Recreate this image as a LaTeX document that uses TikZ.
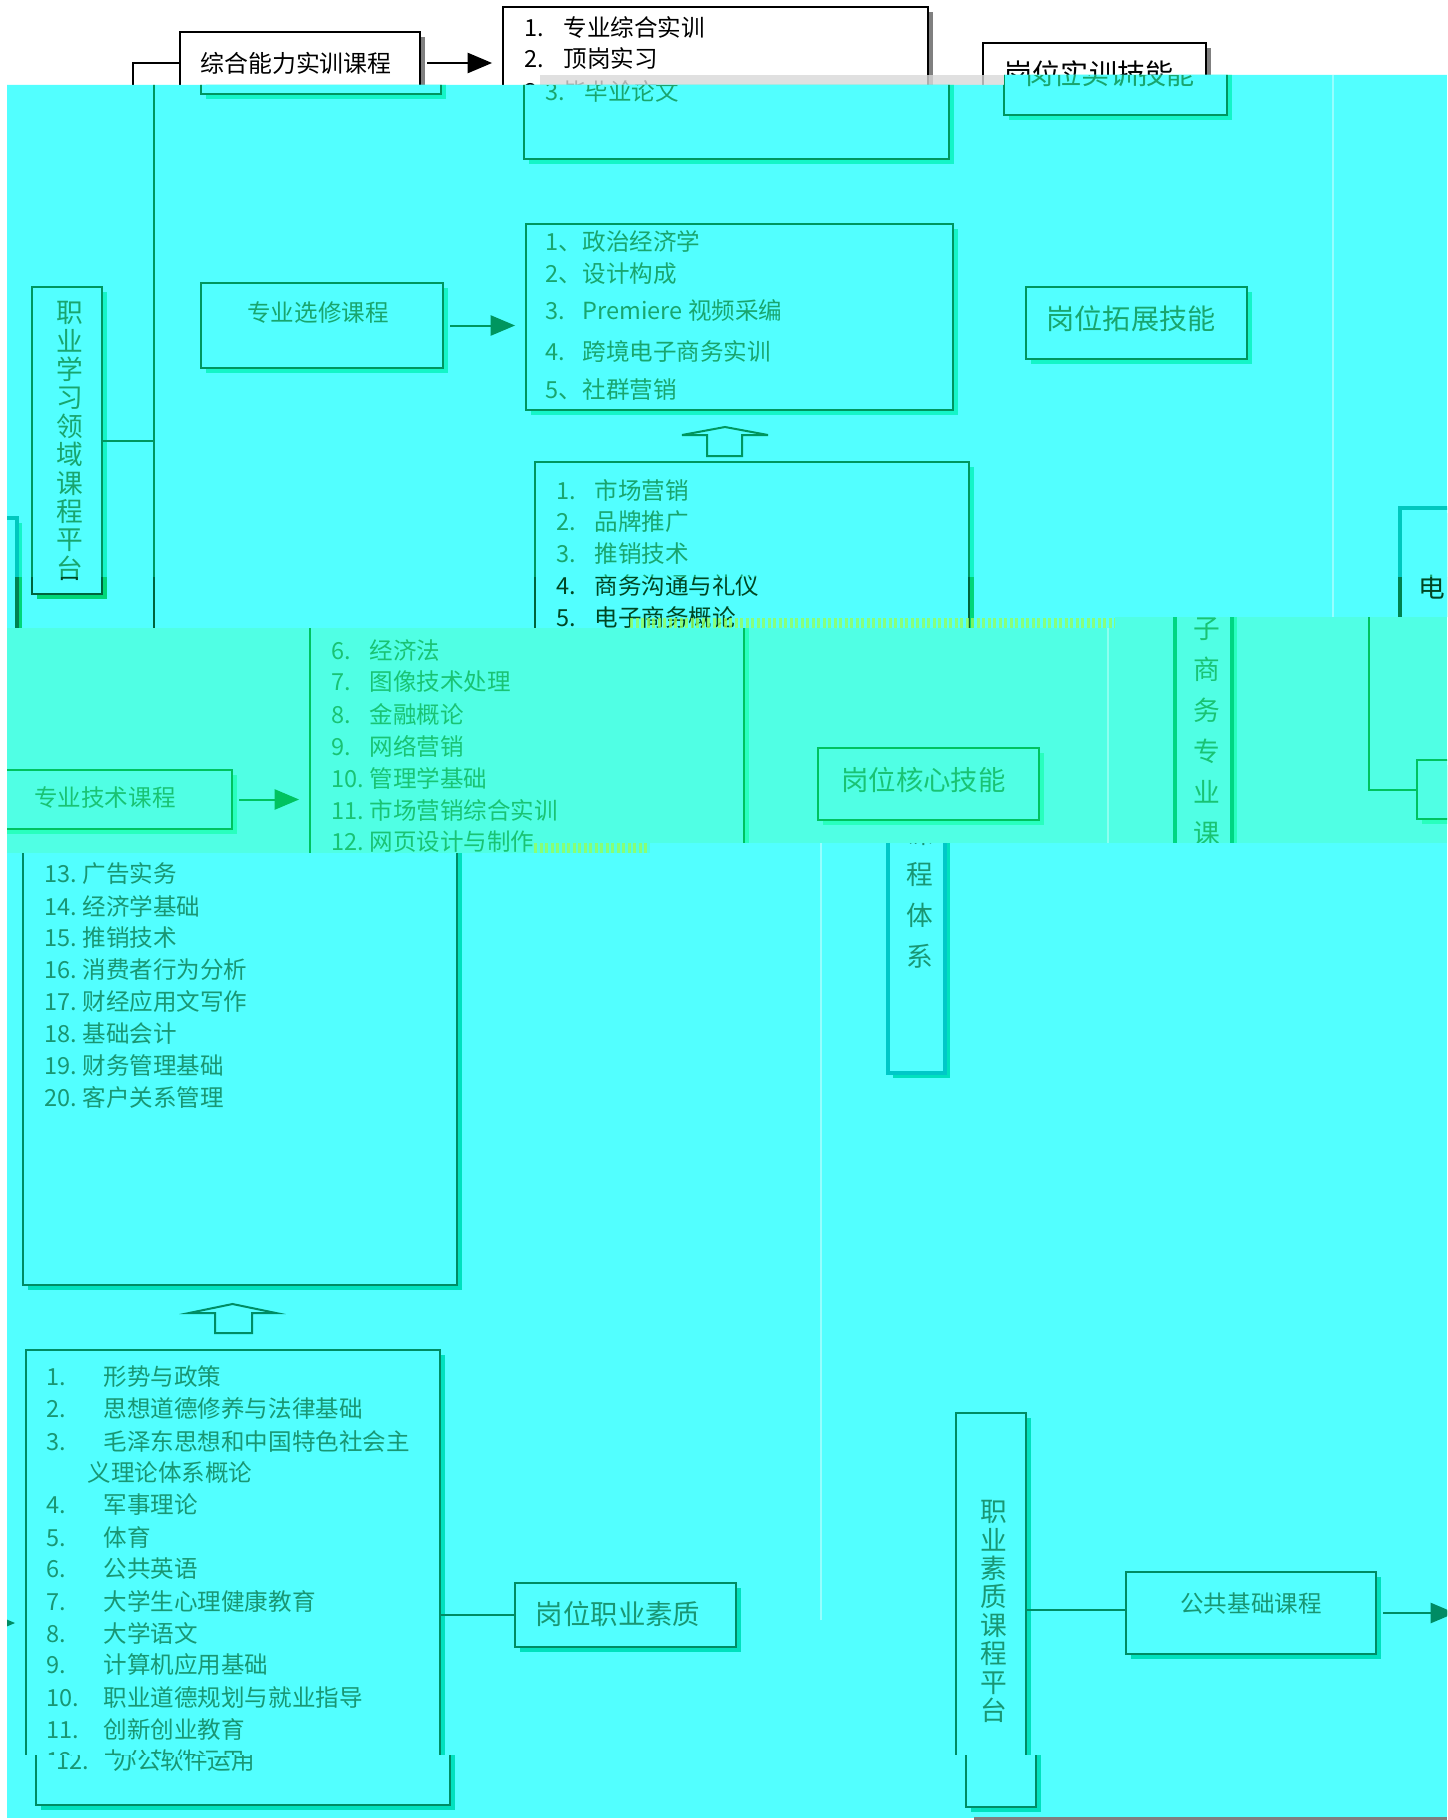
\documentclass[tikz,border=0pt]{standalone}
\usepackage{fontspec}
\setmainfont{Noto Sans CJK SC}
\usetikzlibrary{arrows, shadows}

\newcommand{\fsz}[1]{\fontsize{#1}{#1}\selectfont}

% colours of one band, set again in every band
\colorlet{bgc}{white}
\colorlet{ln}{black}
\colorlet{tx}{black}
\colorlet{sh}{gray}
\colorlet{dsc}{black}
\colorlet{fl}{white}
\definecolor{noise}{RGB}{150,255,90}

\tikzset{
    box/.style={draw=ln, line width=0.2mm, fill=bgc, inner sep=0pt,
        general shadow={fill=sh, shadow xshift=0.5mm, shadow yshift=-0.5mm}},
    dsbox/.style={box, draw=dsc, line width=0.45mm},
    boxtext/.style={text=tx, inner sep=0pt, font=\fsz{6.7}},
    vtext/.style={boxtext, align=center, font=\fontsize{7.6}{8.08}\selectfont},
    listitem/.style={boxtext, anchor=west},
    link/.style={draw=ln, line width=0.2mm},
    arr/.style={link, ->, shorten <=0.6mm, shorten >=1mm},
    hollow/.style={draw=ln, line width=0.2mm, fill=bgc},
    faint/.style={draw=fl, line width=0.15mm},
    speckle/.style={draw=noise, line width=1mm, dash pattern=on 0.3mm off 0.25mm, opacity=0.8}
}

% the whole chart, in the coordinates of the second band
\newcommand{\chart}{%
    \coordinate (fa) at (1333,75);
    \coordinate (fb) at (1333,1620);
    \draw[faint] (fa) -- (fb);
    % upper platform
    \node[box, minimum width=7mm, minimum height=30.7mm] (pt1) at (67,440.5) {};
    \node[vtext] (pt1-t) at (70,441) {职\\业\\学\\习\\领\\域\\课\\程\\平\\台};
    \node[box, minimum width=24mm, minimum height=6.2mm] (zh) at (321,63) {};
    \node[boxtext, font=\fsz{6.8}] (zh-t) at (317,63) {综合能力实训课程};
    \node[box, minimum width=42.5mm, minimum height=15.2mm] (l1) at (736.5,83) {};
    \foreach \t/\y [count=\i] in {专业综合实训/27, 顶岗实习/58, 毕业论文/91} {
        \node[listitem] (l1-\i) at (545,\y) {\makebox[3.9mm][l]{\i.}\t};
    }
    \node[box, minimum width=22.3mm, minimum height=7.2mm] (sx) at (1115.5,79) {};
    \node[boxtext, font=\fsz{8}] (sx-t) at (1110,74) {岗位实训技能};
    \node[box, minimum width=24.2mm, minimum height=8.5mm] (zx) at (322,325.5) {};
    \node[boxtext] (zx-t) at (318,313) {专业选修课程};
    \node[box, minimum width=42.7mm, minimum height=18.6mm] (l2) at (739.5,317) {};
    \foreach \n/\t/\y [count=\i] in {1、/政治经济学/241, 2、/设计构成/274, 3./Premiere 视频采编/311,
            4./跨境电子商务实训/352, 5、/社群营销/390} {
        \node[listitem] (l2-\i) at (545,\y) {\makebox[3.7mm][l]{\n}\t};
    }
    \node[box, minimum width=22.1mm, minimum height=7.2mm] (tz) at (1136.5,323) {};
    \node[boxtext, font=\fsz{8}] (tz-t) at (1131,319) {岗位拓展技能};
    \draw[hollow] (682,435) -- (725,427) -- (768,435) -- (742,435) -- (742,456)
        -- (707,456) -- (707,435) -- cycle;
    \node[box, minimum width=43.4mm, minimum height=82.3mm] (l3) at (752,873.5) {};
    \foreach \t [count=\i] in {市场营销, 品牌推广, 推销技术, 商务沟通与礼仪, 电子商务概论,
            经济法, 图像技术处理, 金融概论, 网络营销, 管理学基础, 市场营销综合实训,
            网页设计与制作, 广告实务, 经济学基础, 推销技术, 消费者行为分析,
            财经应用文写作, 基础会计, 财务管理基础, 客户关系管理} {
        \node[listitem] (l3-\i) at (556,{458+32*\i}) {\makebox[3.8mm][l]{\i.}\t};
    }
    \node[box, minimum width=25.5mm, minimum height=5.9mm] (js) at (329.5,799.5) {};
    \node[boxtext] (js-t) at (330,798) {专业技术课程};
    \node[box, minimum width=22.1mm, minimum height=7.2mm] (hx) at (1153.5,784) {};
    \node[boxtext, font=\fsz{7.8}] (hx-t) at (1148.5,780) {岗位核心技能};
    \node[dsbox, minimum width=5.7mm, minimum height=56.5mm] (ds) at (1428.5,790.5) {};
    \node[vtext, font=\fontsize{7.6}{11.67}\selectfont] (ds-t) at (1432,771.5)
        {电\\子\\商\\务\\专\\业\\课\\程\\体\\系};
    % lower platform
    \draw[hollow] (701,1313) -- (744.5,1304) -- (788,1313) -- (764,1313) -- (764,1333)
        -- (727,1333) -- (727,1313) -- cycle;
    \node[box, minimum width=7mm, minimum height=39.4mm] (zy) at (63,1620) {};
    \node[vtext] (zy-t) at (66,1621.5) {职\\业\\素\\质\\课\\程\\平\\台};
    \node[box, minimum width=25mm, minimum height=8.2mm] (gg) at (323,1623) {};
    \node[boxtext] (gg-t) at (323,1614) {公共基础课程};
    \node[box, minimum width=41.4mm, minimum height=45.5mm] (l4) at (745,1577.5) {};
    \foreach \n/\t/\y [count=\i] in {1./形势与政策/1377, 2./思想道德修养与法律基础/1409,
            3./毛泽东思想和中国特色社会主/1441, 4./军事理论/1505, 5./体育/1537,
            6./公共英语/1569, 7./大学生心理健康教育/1601, 8./大学语文/1633,
            9./计算机应用基础/1665, 10./职业道德规划与就业指导/1697,
            11./创新创业教育/1729, 12./办公软件运用/1761} {
        \node[listitem] (l4-\i) at (558,\y) {\makebox[5.7mm][l]{\n}\t};
    }
    \node[listitem] (l4-3b) at (599,1473) {义理论体系概论};
    \node[box, minimum width=22.1mm, minimum height=6.4mm] (zs) at (1137.5,1615) {};
    \node[boxtext, font=\fsz{7.8}] (zs-t) at (1130,1614) {岗位职业素质};
    % connectors
    \coordinate (br-a) at (154,63);
    \coordinate (br-b) at (154,799.5);
    \draw[link] (zh.west) -- (br-a) -- (br-b) -- (js.west);
    \draw[link] (pt1.east) -- (pt1.east -| br-a);
    \draw[arr] (zh.east) -- (zh.east -| l1.west);
    \draw[arr] (zx.east) -- (zx.east -| l2.west);
    \draw[arr] (js.east) -- (js.east -| l3.west);
    \draw[link] (zy.east) -- (zy.east -| gg.west);
    \draw[arr] (gg.east) -- (gg.east -| l4.west);
    \draw[link] (zs.west -| l4.east) -- (zs.west);
}

% one band: the chart moved by #1, and its wrapped copies
\newcommand{\drawband}[1]{%
    \begin{scope}[shift={(#1,0)}]\chart\end{scope}
    \begin{scope}[shift={(#1+1440,-10)}]\chart\end{scope}
    \begin{scope}[shift={(#1-1440,10)}]\chart\end{scope}
}

\begin{document}
\begin{tikzpicture}[x=0.1mm, y=-0.1mm, > = triangle 45]
    \useasboundingbox (0,0) rectangle (1447,1820);
    \fill[white] (0,0) rectangle (1447,1820);

    % band A
    \begin{scope}
        \clip (0,0) -- (1447,0) -- (1447,75) -- (1004,75) -- (1004,85) -- (0,85) -- cycle;
        \drawband{-21}
        \fill[gray!30, opacity=0.8] (540,75) rectangle (1004,85);
    \end{scope}

    % band B
    \begin{scope}
        \definecolor{bgc}{RGB}{82,255,255}
        \definecolor{ln}{RGB}{0,150,95}
        \definecolor{tx}{RGB}{25,165,110}
        \definecolor{sh}{RGB}{20,245,200}
        \definecolor{dsc}{RGB}{0,200,190}
        \definecolor{fl}{RGB}{150,255,255}
        \clip (7,85) -- (1004,85) -- (1004,75) -- (1447,75) -- (1447,577) -- (7,577) -- cycle;
        \fill[bgc] (0,0) rectangle (1447,1820);
        \drawband{0}
    \end{scope}

    % band B, darker strip
    \begin{scope}
        \definecolor{bgc}{RGB}{82,255,255}
        \definecolor{ln}{RGB}{0,100,60}
        \definecolor{tx}{RGB}{0,70,35}
        \definecolor{sh}{RGB}{0,215,120}
        \definecolor{dsc}{RGB}{0,130,80}
        \definecolor{fl}{RGB}{150,255,255}
        \clip (7,577) -- (1447,577) -- (1447,617) -- (1115,617) -- (1115,628) -- (7,628) -- cycle;
        \fill[bgc] (0,0) rectangle (1447,1820);
        \drawband{0}
        \draw[speckle] (630,622.5) -- (1115,622.5);
    \end{scope}

    % band C
    \begin{scope}
        \definecolor{bgc}{RGB}{80,255,228}
        \definecolor{ln}{RGB}{0,195,95}
        \definecolor{tx}{RGB}{25,195,115}
        \definecolor{sh}{RGB}{40,255,190}
        \definecolor{dsc}{RGB}{0,215,130}
        \definecolor{fl}{RGB}{140,255,240}
        \clip (7,628) -- (1115,628) -- (1115,617) -- (1447,617) -- (1447,843) -- (650,843)
            -- (650,853) -- (7,853) -- cycle;
        \fill[bgc] (0,0) rectangle (1447,1820);
        \drawband{-225}
        \draw[speckle] (534,848) -- (650,848);
    \end{scope}

    % band D
    \begin{scope}
        \definecolor{bgc}{RGB}{82,255,255}
        \definecolor{ln}{RGB}{0,140,100}
        \definecolor{tx}{RGB}{25,150,115}
        \definecolor{sh}{RGB}{0,225,190}
        \definecolor{dsc}{RGB}{0,200,200}
        \definecolor{fl}{RGB}{150,255,255}
        \clip (7,853) -- (650,853) -- (650,843) -- (1447,843) -- (1447,1755) -- (7,1755) -- cycle;
        \fill[bgc] (0,0) rectangle (1447,1820);
        \drawband{-512}
    \end{scope}

    % band E
    \begin{scope}
        \definecolor{bgc}{RGB}{82,255,255}
        \definecolor{ln}{RGB}{0,140,100}
        \definecolor{tx}{RGB}{25,150,115}
        \definecolor{sh}{RGB}{0,225,190}
        \definecolor{dsc}{RGB}{0,200,200}
        \definecolor{fl}{RGB}{150,255,255}
        \clip (7,1755) -- (1447,1755) -- (1447,1817) -- (7,1817) -- cycle;
        \fill[bgc] (0,0) rectangle (1447,1820);
        \drawband{-502}
    \end{scope}
    \fill[gray] (974,1817) rectangle (1447,1820);
\end{tikzpicture}
\end{document}
